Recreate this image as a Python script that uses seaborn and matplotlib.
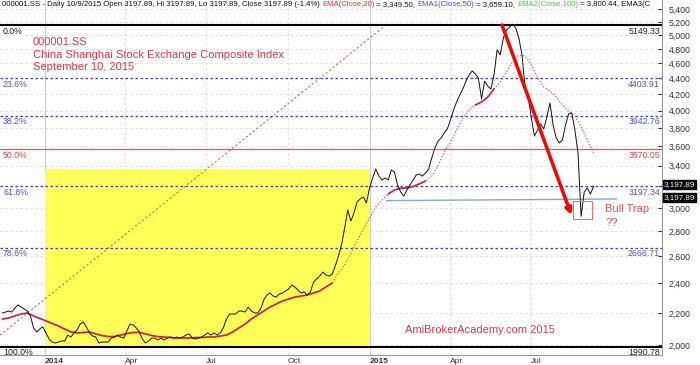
import numpy as np
import pandas as pd
import matplotlib
matplotlib.use("Agg")
import matplotlib.pyplot as plt
import matplotlib.dates as mdates
from matplotlib.patches import Rectangle
from matplotlib.ticker import FixedLocator, FuncFormatter, NullLocator
import seaborn as sns

# closes, one every 3.5 days, ending 10 Sep 2015
close = [
    2199, 2205, 2212, 2205, 2231, 2252, 2238, 2225, 2212, 2180,
    2104, 2079, 2097, 2110, 2073, 2036, 2018, 2012, 2018, 2024,
    2024, 2060, 2048, 2073, 2091, 2128, 2141, 2110, 2073, 2054,
    2048, 2012, 2018, 2018, 2018, 2042, 2048, 2060, 2048, 2042,
    2085, 2128, 2122, 2104, 2079, 2036, 2012, 2024, 2042, 2042,
    2030, 2042, 2030, 2042, 2048, 2042, 2048, 2042, 2048, 2060,
    2067, 2042, 2036, 2042, 2048, 2060, 2073, 2060, 2073, 2060,
    2073, 2104, 2160, 2192, 2192, 2192, 2212, 2212, 2205, 2238,
    2212, 2199, 2199, 2225, 2285, 2319, 2333, 2312, 2305, 2326,
    2333, 2347, 2361, 2389, 2375, 2354, 2333, 2340, 2319, 2340,
    2410, 2431, 2453, 2482, 2460, 2453, 2467, 2527, 2602, 2689,
    2828, 2982, 2886, 2956, 3054, 3081, 3099, 3045, 3183, 3278,
    3367, 3297, 3259, 3278, 3259, 3357, 3337, 3211, 3145, 3108,
    3164, 3211, 3259, 3307, 3317, 3297, 3327, 3367, 3478, 3582,
    3657, 3690, 3745, 3790, 3892, 4009, 4105, 4190, 4266, 4367,
    4446, 4499, 4459, 4407, 4141, 4367, 4303, 4266, 4446, 4787,
    4717, 4960, 5079, 5124, 5166, 5109, 4960, 4717, 4278, 4178,
    3915, 3712, 3778, 3846, 3790, 3927, 4093, 3835, 3690, 3636,
    3668, 3835, 3962, 3974, 3778, 3530, 2927, 3145, 3183, 3126,
    3197.89,
]

# moving average, one value a week
ema = [
    2160, 2167, 2180, 2192, 2199, 2180, 2164, 2148, 2132, 2116,
    2097, 2079, 2073, 2076, 2079, 2067, 2057, 2051, 2051, 2060,
    2069, 2076, 2076, 2067, 2057, 2051, 2048, 2045, 2042, 2042,
    2042, 2045, 2045, 2048, 2048, 2054, 2060, 2079, 2104, 2128,
    2160, 2186, 2212, 2238, 2258, 2278, 2292, 2305, 2312, 2319,
    2333, 2347, 2375, 2403, 2475, 2534, 2626, 2721, 2819, 2912,
    3009, 3072, 3126, 3164, 3180, 3184, 3197, 3221, 3249, 3297,
    3397, 3540, 3646, 3778, 3915, 4009, 4068, 4105, 4166, 4266,
    4354, 4485, 4633, 4717, 4703, 4579, 4419, 4291, 4241, 4166,
    4068, 3997, 3938, 3812, 3668, 3530,
]

fib_levels = [5149.33, 4403.91, 3942.76, 3570.05, 3197.34, 2666.71, 1990.78]
fib_names = ["0.0%", "23.6%", "38.2%", "50.0%", "61.8%", "78.6%", "100.0%"]

y_ticks = list(range(2000, 5401, 200))
hidden_y_label = 3200  # covered by the last-price tag
x_ticks = ["2014-01-01", "2014-04-01", "2014-07-01", "2014-10-01",
           "2015-01-01", "2015-04-01", "2015-07-01"]
x_tick_labels = ["2014", "Apr", "Jul", "Oct", "2015", "Apr", "Jul"]

box_dates = ["2014-01-01", "2015-01-01"]
box_top = 3369

trend_dates = ["2013-11-11 07:00", "2015-01-19 00:00"]
trend_values = [2060, 5149.33]

support_dates = ["2015-01-20", "2015-10-06"]
support_values = [3066, 3081]

arrow_dates = ["2015-05-30", "2015-08-16"]
arrow_values = [5154, 2938]

trap_dates = ["2015-08-18", "2015-09-08"]
trap_values = [2904, 3066]

header = [
    ("000001.SS - Daily 10/9/2015 Open 3197.89, Hi 3197.89, Lo 3197.89, "
     "Close 3197.89 (-1.4%) ", "#111111"),
    ("EMA(Close,20)", "#ff2a2a"),
    (" = 3,349.50, ", "#111111"),
    ("EMA1(Close,50)", "#4646ff"),
    (" = 3,659.10, ", "#111111"),
    ("EMA2(Close,100)", "#2fdc2f"),
    (" = 3,800.44, EMA3(C", "#111111"),
]

dates = pd.date_range(end="2015-09-10", periods=len(close), freq="84h")
price = pd.DataFrame({"date": dates, "close": close})
avg = pd.DataFrame({"date": dates[::2], "ema": ema})

sns.set_style("white")
plt.rcParams["font.family"] = ["Liberation Sans", "DejaVu Sans"]

fig = plt.figure(figsize=(7, 3.65), dpi=100)
ax = fig.add_axes([0, 10 / 365, 662 / 700, 355 / 365])
ax.set_yscale("log")

# grid
for v in y_ticks:
    ax.axhline(v, color="#dddddd", lw=0.6, ls=(0, (3, 3)), zorder=0)
for d, lab in zip(x_ticks, x_tick_labels):
    if lab.isdigit():
        ax.axvline(pd.Timestamp(d), color="#cfcfcf", lw=0.8, zorder=0)
    else:
        ax.axvline(pd.Timestamp(d), color="#dddddd", lw=0.6, ls=(0, (3, 3)), zorder=0)

# 2014 box
ax.fill_between(pd.to_datetime(box_dates), fib_levels[-1], box_top,
                color="#ffff55", lw=0, zorder=1)

# fibonacci levels
fib_colors = ["black", "#3a3af0", "#3a3af0", "#f05050", "#3a3af0", "#3a3af0", "black"]
for lvl, name, c in zip(fib_levels, fib_names, fib_colors):
    if c == "black":
        ax.axhline(lvl, color=c, lw=1.5, zorder=4)
    elif c == "#f05050":
        ax.axhline(lvl, color=c, lw=0.9, zorder=4)
    else:
        ax.axhline(lvl, color=c, lw=0.9, ls=(0, (2, 2)), zorder=4)
    tc = "#222222" if c == "black" else ("#ee4444" if c == "#f05050" else "#5050ee")
    ax.annotate(name, xy=(0, lvl), xycoords=("axes fraction", "data"),
                xytext=(3, -1.5), textcoords="offset pixels",
                ha="left", va="top", fontsize=6.3, color=tc, zorder=6)
    ax.annotate(f"{lvl:.2f}", xy=(1, lvl), xycoords=("axes fraction", "data"),
                xytext=(-2, -1.5), textcoords="offset pixels",
                ha="right", va="top", fontsize=6.3, color=tc, zorder=6)

# trend lines
ax.plot(pd.to_datetime(trend_dates), trend_values, color="#f06464",
        lw=0.8, ls=(0, (2, 2)), zorder=3)
ax.plot(pd.to_datetime(support_dates), support_values, color="#8aa4dc",
        lw=1.0, zorder=3)

# EMA: dotted everywhere, solid on some stretches
sns.lineplot(data=avg, x="date", y="ema", ax=ax, color="#e0507a",
             lw=0.9, linestyle=(0, (1, 1.5)), zorder=4)
for a, b in [(0, 54), (62, 69), (76, 80)]:
    seg = avg.iloc[a:b]
    sns.lineplot(data=seg, x="date", y="ema", ax=ax, color="#d81b4a",
                 lw=1.2, zorder=4)

# price
sns.lineplot(data=price, x="date", y="close", ax=ax, color="#111111",
             lw=0.7, zorder=5)

# arrow and bull trap box
ad = pd.to_datetime(arrow_dates)
ax.annotate("", xy=(ad[1], arrow_values[1]), xytext=(ad[0], arrow_values[0]),
            arrowprops=dict(arrowstyle="-|>", color="#ff0000", lw=2.5,
                            mutation_scale=9, shrinkA=0, shrinkB=0), zorder=7)
td = mdates.date2num(pd.to_datetime(trap_dates))
ax.add_patch(Rectangle((td[0], trap_values[0]), td[1] - td[0],
                       trap_values[1] - trap_values[0], fill=False,
                       ec="#f07070", lw=0.8, zorder=7))
ax.text(pd.Timestamp("2015-09-23"), 2989, "Bull Trap", color="#e85050",
        fontsize=8, va="center", ha="left")
ax.text(pd.Timestamp("2015-09-23"), 2872, "??", color="#e85050",
        fontsize=8, va="center", ha="left")

# red titles
red = "#ee3344"
for i, s in enumerate(["000001.SS", "China Shanghai Stock Exchange Composite Index",
                       "September 10, 2015"]):
    ax.text(33 / 662, 1 - (42 + 12.5 * i) / 355, s, transform=ax.transAxes,
            color=red, fontsize=8, va="center", ha="left")
ax.text(405 / 662, 1 - 330 / 355, "AmiBrokerAcademy.com 2015",
        transform=ax.transAxes, color=red, fontsize=8, va="center", ha="left")

# axes
ax.set_ylim(1942, 5550)
ax.set_xlim(pd.Timestamp("2013-11-11 07:00"), pd.Timestamp("2015-11-26"))
ax.yaxis.tick_right()
ax.yaxis.set_major_locator(FixedLocator(y_ticks))
ax.yaxis.set_minor_locator(NullLocator())
ax.yaxis.set_major_formatter(
    FuncFormatter(lambda v, p: "" if round(v) == hidden_y_label else f"{v:,.0f}"))
ax.set_xticks(pd.to_datetime(x_ticks))
ax.set_xticklabels(x_tick_labels)
for lab in ax.get_xticklabels():
    lab.set_ha("left")
    if lab.get_text().isdigit():
        lab.set_fontweight("bold")
ax.tick_params(axis="y", labelsize=6.3, colors="#333333", length=3,
               direction="in", pad=5)
ax.tick_params(axis="x", labelsize=6, colors="#333333", length=2,
               direction="out", pad=0)
ax.set_xlabel("")
ax.set_ylabel("")
for s in ["left", "top"]:
    ax.spines[s].set_visible(False)
for s in ["right", "bottom"]:
    ax.spines[s].set_color("#999999")
    ax.spines[s].set_linewidth(0.8)

# header line, pieces chained left to right and clipped at the axis
renderer = fig.canvas.get_renderer()
x = 2 / 662
for s, c in header:
    t = ax.text(x, 1 - 5 / 355, s, transform=ax.transAxes, fontsize=5.6,
                color=c, va="center", ha="left", clip_on=True, zorder=8)
    ext = t.get_window_extent(renderer)
    x = ax.transAxes.inverted().transform((ext.x1, ext.y0))[0]

# last price tags
for yp in [184.5, 197.5]:
    fig.text(664 / 700, 1 - yp / 365, "3,197.89", color="white", fontsize=5.8,
             va="center", ha="left",
             bbox=dict(boxstyle="square,pad=0.1", fc="black", ec="black"))

fig.savefig("out.png", dpi=100)
